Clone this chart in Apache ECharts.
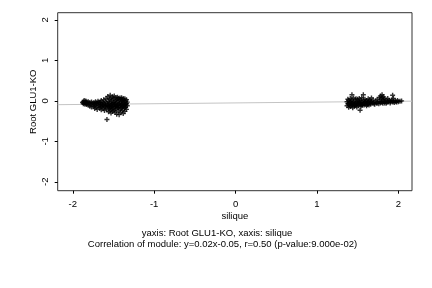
<!DOCTYPE html>
<html><head><meta charset="utf-8">
<script src="https://cdn.jsdelivr.net/npm/echarts@6/dist/echarts.min.js"></script>
<style>html,body{margin:0;padding:0;background:#fff}#c{width:432px;height:288px}</style>
</head><body><div id="c"></div>
<script>
var xTicks = [-2, -1, 0, 1, 2];
var yTicks = [-2, -1, 0, 1, 2];
var xName = 'silique';
var yName = 'Root GLU1-KO';
var subtitle1 = 'yaxis: Root GLU1-KO, xaxis: silique';
var subtitle2 = 'Correlation of module: y=0.02x-0.05, r=0.50 (p-value:9.000e-02)';
var fitSlope = 0.02;
var fitIntercept = -0.05;
var xRange = [-2.185, 2.168];
var yRange = [-2.22, 2.18];

var leftCluster = [
[-1.88,-0.04],[-1.87,-0.02],[-1.87,-0.07],[-1.86,0.01],[-1.86,-0.05],[-1.85,-0.03],[-1.85,-0.08],[-1.84,0.0],[-1.84,-0.06],[-1.83,-0.03],[-1.83,-0.09],[-1.82,-0.05],[-1.81,-0.02],[-1.81,-0.11],[-1.80,-0.06],[-1.79,-0.04],[-1.79,-0.13],[-1.78,-0.08],[-1.77,-0.03],[-1.77,-0.15],[-1.76,-0.06],[-1.75,-0.10],
[-1.74,-0.04],[-1.74,-0.14],[-1.73,-0.19],[-1.73,-0.07],[-1.72,-0.02],[-1.72,-0.11],[-1.71,-0.16],[-1.70,-0.05],[-1.70,-0.21],[-1.69,-0.09],[-1.69,-0.01],[-1.68,-0.13],[-1.67,-0.06],[-1.67,-0.18],[-1.66,-0.03],[-1.66,-0.10],[-1.65,-0.22],[-1.65,0.01],[-1.64,-0.08],[-1.64,-0.15],[-1.63,-0.04],[-1.63,-0.12],[-1.62,0.03],[-1.62,-0.19],[-1.61,-0.07],[-1.61,-0.24],[-1.60,-0.02],[-1.60,-0.11],[-1.59,0.06],[-1.59,-0.16],[-1.58,-0.05],[-1.58,-0.21],[-1.58,-0.46],[-1.57,0.11],[-1.57,-0.09],[-1.56,-0.01],[-1.56,-0.14],[-1.56,-0.27],[-1.55,0.04],[-1.55,-0.06],[-1.55,-0.19],
[-1.54,0.14],[-1.54,-0.11],[-1.54,-0.24],[-1.53,0.07],[-1.53,-0.03],[-1.53,-0.17],[-1.53,-0.30],[-1.52,0.02],[-1.52,-0.08],[-1.52,-0.21],[-1.51,0.10],[-1.51,-0.13],[-1.51,-0.26],[-1.50,0.05],[-1.50,-0.04],[-1.50,-0.18],[-1.49,0.12],[-1.49,-0.10],[-1.49,-0.23],[-1.48,0.01],[-1.48,-0.15],[-1.48,-0.28],[-1.47,0.08],[-1.47,-0.06],[-1.47,-0.20],[-1.46,0.03],[-1.46,-0.12],[-1.46,-0.33],[-1.45,0.09],[-1.45,-0.02],[-1.45,-0.17],[-1.44,0.06],[-1.44,-0.09],[-1.44,-0.25],[-1.43,-0.34],[-1.43,0.02],[-1.43,-0.14],[-1.42,0.07],[-1.42,-0.05],[-1.42,-0.21],[-1.41,0.04],[-1.41,-0.11],[-1.41,-0.29],[-1.40,0.08],[-1.40,-0.01],[-1.40,-0.18],[-1.39,0.03],[-1.39,-0.08],[-1.39,-0.24],[-1.38,0.06],[-1.38,-0.13],[-1.38,-0.31],[-1.37,0.01],[-1.37,-0.04],[-1.37,-0.19],[-1.36,0.05],[-1.36,-0.10],[-1.36,-0.26],[-1.35,-0.02],[-1.35,-0.15],[-1.34,0.03],[-1.34,-0.07],[-1.34,-0.21],[-1.33,-0.03],[-1.33,-0.12],
[-1.71,-0.06],[-1.68,-0.04],[-1.66,-0.15],[-1.63,-0.09],[-1.60,-0.14],[-1.57,-0.12],[-1.55,-0.13],[-1.53,-0.12],[-1.51,-0.07],[-1.49,-0.05],[-1.47,-0.14],[-1.45,-0.11],[-1.43,-0.08],[-1.41,-0.16],[-1.39,-0.13],[-1.37,-0.10],[-1.35,-0.09],[-1.52,-0.14],[-1.48,-0.09],[-1.44,-0.16],[-1.40,-0.06],[-1.36,-0.16]
];

var rightCluster = [
[1.37,-0.02],[1.37,-0.12],[1.38,0.04],[1.38,-0.07],[1.39,-0.16],[1.39,0.01],[1.40,-0.04],[1.40,-0.10],[1.41,0.06],[1.41,-0.14],[1.42,-0.01],[1.42,-0.08],[1.43,0.15],[1.43,0.03],[1.43,-0.12],[1.44,-0.05],[1.44,-0.17],[1.45,0.07],[1.45,-0.02],[1.46,-0.09],[1.46,-0.13],[1.47,0.02],[1.47,-0.06],[1.48,0.05],[1.48,-0.11],[1.49,-0.03],[1.49,-0.15],[1.50,0.04],[1.50,-0.07],[1.51,-0.01],[1.51,-0.12],[1.52,0.06],[1.52,-0.05],[1.53,-0.09],[1.53,-0.23],[1.54,0.01],[1.54,-0.13],[1.55,-0.04],[1.55,0.08],[1.56,-0.08],[1.56,-0.11],[1.57,0.15],[1.57,0.02],[1.58,-0.05],[1.58,-0.10],[1.59,0.04],[1.59,-0.02],[1.60,-0.08],[1.61,0.01],[1.61,-0.12],[1.62,-0.04],[1.63,0.05],[1.63,-0.07],[1.64,-0.01],[1.64,-0.10],[1.65,0.03],[1.65,-0.05],[1.66,-0.08],[1.67,0.07],[1.67,-0.02],
[1.68,-0.06],[1.69,0.02],[1.70,-0.04],[1.71,-0.08],[1.72,0.0],[1.73,-0.05],[1.74,0.04],[1.75,-0.03],[1.76,-0.07],[1.77,0.08],[1.77,-0.01],[1.78,0.12],[1.78,-0.05],[1.79,0.06],[1.79,-0.02],[1.80,0.15],[1.80,0.09],[1.80,-0.04],[1.81,0.03],[1.81,-0.06],[1.82,0.1],[1.82,-0.01],[1.83,0.05],[1.83,-0.05],[1.84,-0.02],[1.85,0.02],[1.86,-0.04],[1.87,0.06],[1.87,-0.01],[1.88,-0.03],[1.89,0.01],[1.90,-0.05],[1.91,-0.02],[1.92,0.02],[1.93,0.14],[1.93,-0.03],[1.94,0.06],[1.94,-0.01],[1.95,-0.04],[1.96,0.0],[1.97,-0.02],[1.98,-0.03],[1.99,0.01],[2.00,-0.02],[2.02,-0.01],[2.04,0.0],
[1.39,-0.07],[1.41,-0.05],[1.43,-0.07],[1.45,-0.08],[1.47,-0.11],[1.49,-0.08],[1.51,-0.06],[1.53,-0.03],[1.55,-0.10],[1.57,-0.06],[1.60,-0.03],[1.62,-0.09],[1.66,-0.03],[1.70,-0.07],[1.74,-0.06],[1.85,-0.06],[1.90,-0.01]
];

var fitLine = [
  [xRange[0], fitSlope * xRange[0] + fitIntercept],
  [xRange[1], fitSlope * xRange[1] + fitIntercept]
];

var FONT = 'Liberation Sans';
var FS = 9.5;
var plus = 'path://M3.6,0H6.4V3.6H10V6.4H6.4V10H3.6V6.4H0V3.6H3.6Z';
var chart = echarts.init(document.getElementById('c'), null, {renderer: 'canvas'});
chart.setOption({
  animation: false,
  backgroundColor: '#fff',
  grid: {left: 57.7, right: 20, top: 12.7, bottom: 97.3, show: true, borderColor: '#333', borderWidth: 1, backgroundColor: 'transparent'},
  xAxis: {
    type: 'value', min: xRange[0], max: xRange[1],
    name: xName, nameLocation: 'middle', nameGap: 20.5, nameMoveOverlap: false,
    nameTextStyle: {fontFamily: FONT, fontSize: FS, color: '#000'},
    axisLine: {show: false, onZero: false},
    axisTick: {show: true, length: 3, customValues: xTicks, lineStyle: {color: '#000'}},
    axisLabel: {customValues: xTicks, fontFamily: FONT, fontSize: FS, color: '#000', margin: 9, formatter: function(v){return String(v);}},
    splitLine: {show: false}
  },
  yAxis: {
    type: 'value', min: yRange[0], max: yRange[1],
    name: yName, nameLocation: 'middle', nameGap: 19, nameMoveOverlap: false,
    nameTextStyle: {fontFamily: FONT, fontSize: FS, color: '#000'},
    axisLine: {show: false, onZero: false},
    axisTick: {show: true, length: 3, customValues: yTicks, lineStyle: {color: '#000'}},
    axisLabel: {customValues: yTicks, rotate: 90, fontFamily: FONT, fontSize: FS, color: '#000', margin: 7, formatter: function(v){return String(v);}},
    splitLine: {show: false}
  },
  graphic: [
    {type: 'text', x: 217, y: 233, style: {text: subtitle1, font: FS + 'px "Liberation Sans"', fill: '#000', align: 'center', verticalAlign: 'middle'}},
    {type: 'text', x: 222.5, y: 244, style: {text: subtitle2, font: FS + 'px "Liberation Sans"', fill: '#000', align: 'center', verticalAlign: 'middle'}}
  ],
  series: [
    {type: 'line', data: fitLine, showSymbol: false, symbol: 'none', lineStyle: {color: '#c4c4c4', width: 1}, z: 1, silent: true},
    {type: 'scatter', data: leftCluster, symbol: plus, symbolSize: 5, itemStyle: {color: '#000'}, z: 2, silent: true},
    {type: 'scatter', data: rightCluster, symbol: plus, symbolSize: 5, itemStyle: {color: '#000'}, z: 2, silent: true}
  ]
});
</script></body></html>
